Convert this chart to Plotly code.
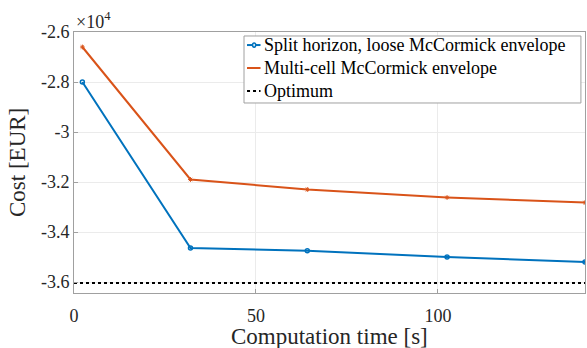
import plotly.graph_objects as go

time_s = [2.3, 32.0, 64.1, 102.5, 140.4]
split_cost = [-28000, -34640, -34750, -35000, -35200]
multi_cost = [-26600, -31900, -32300, -32620, -32820]
optimum_cost = -36040
x_range = [0, 140.4]
y_range = [-36440, -26000]
y_ticks = [-36000, -34000, -32000, -30000, -28000, -26000]
y_ticktext = ["-3.6", "-3.4", "-3.2", "-3", "-2.8", "-2.6"]
x_ticks = [0, 50, 100]
series_names = ["Split horizon, loose McCormick envelope", "Multi-cell McCormick envelope", "Optimum"]

blue = "#0072BD"
orange = "#D95319"
font = "Liberation Serif"
txt = "#262626"

fig = go.Figure()
fig.add_trace(go.Scatter(x=time_s, y=split_cost, mode="lines+markers",
                         name=series_names[0],
                         line=dict(color=blue, width=2),
                         marker=dict(symbol="circle-open", size=4, color=blue, line=dict(width=1.5))))
fig.add_trace(go.Scatter(x=time_s, y=multi_cost, mode="lines+markers",
                         name=series_names[1],
                         line=dict(color=orange, width=2),
                         marker=dict(symbol="asterisk-open", size=4, color=orange, line=dict(width=1, color=orange))))
fig.add_trace(go.Scatter(x=x_range, y=[optimum_cost, optimum_cost], mode="lines",
                         name=series_names[2],
                         line=dict(color="black", width=2, dash="dot")))

axis_common = dict(showline=True, linecolor="#A0A0A0", linewidth=1, mirror=True,
                   showgrid=True, gridcolor="#EBEBEB", gridwidth=1,
                   ticks="inside", ticklen=4, tickcolor="#A0A0A0",
                   zeroline=False, automargin=False,
                   tickfont=dict(family=font, size=18, color=txt))
fig.update_layout(
    width=587, height=348,
    margin=dict(l=74, r=2, t=32, b=55),
    paper_bgcolor="white", plot_bgcolor="white",
    font=dict(family=font, color=txt),
    xaxis=dict(range=x_range, tickvals=x_ticks, ticklabelstandoff=6, **axis_common),
    yaxis=dict(range=y_range, tickvals=y_ticks, ticktext=y_ticktext, **axis_common),
    showlegend=False,
)

# legend drawn manually (paper coordinates)
fig.add_shape(type="rect", xref="paper", yref="paper", x0=0.3327, x1=0.992, y0=0.728, y1=0.9847,
              line=dict(color="#A0A0A0", width=1), fillcolor="white", layer="above")
leg_rows = [0.950, 0.862, 0.774]
leg_colors = [blue, orange, "black"]
leg_dash = ["solid", "solid", "dot"]
for name, yy, col, dash in zip(series_names, leg_rows, leg_colors, leg_dash):
    fig.add_shape(type="line", xref="paper", yref="paper", x0=0.3386, x1=0.365, y0=yy, y1=yy,
                  line=dict(color=col, width=2, dash=dash), layer="above")
    fig.add_annotation(x=0.367, y=yy, xref="paper", yref="paper", xanchor="left", yanchor="middle",
                       text=name, showarrow=False, font=dict(family=font, size=18, color="black"))
# small markers in legend samples
fig.add_shape(type="circle", xref="paper", yref="paper", x0=0.3495, x1=0.3555, y0=leg_rows[0]-0.008, y1=leg_rows[0]+0.008,
              line=dict(color=blue, width=1.5), fillcolor="white", layer="above")

fig.add_annotation(x=0, y=1, xref="paper", yref="paper", xanchor="left", yanchor="bottom",
                   text="×10<sup>4</sup>", showarrow=False,
                   font=dict(family=font, size=18, color=txt), yshift=-2)
fig.add_annotation(x=0.5, y=0, xref="paper", yref="paper", xanchor="center", yanchor="top",
                   text="Computation time [s]", showarrow=False,
                   font=dict(family=font, size=23, color=txt), yshift=-29)
fig.add_annotation(x=0, y=0.5, xref="paper", yref="paper", xanchor="right", yanchor="middle",
                   text="Cost [EUR]", showarrow=False, textangle=-90,
                   font=dict(family=font, size=23, color=txt), xshift=-42)
fig.write_html("out.html", post_script="document.body.style.margin='0';",
               config={"displayModeBar": False})
